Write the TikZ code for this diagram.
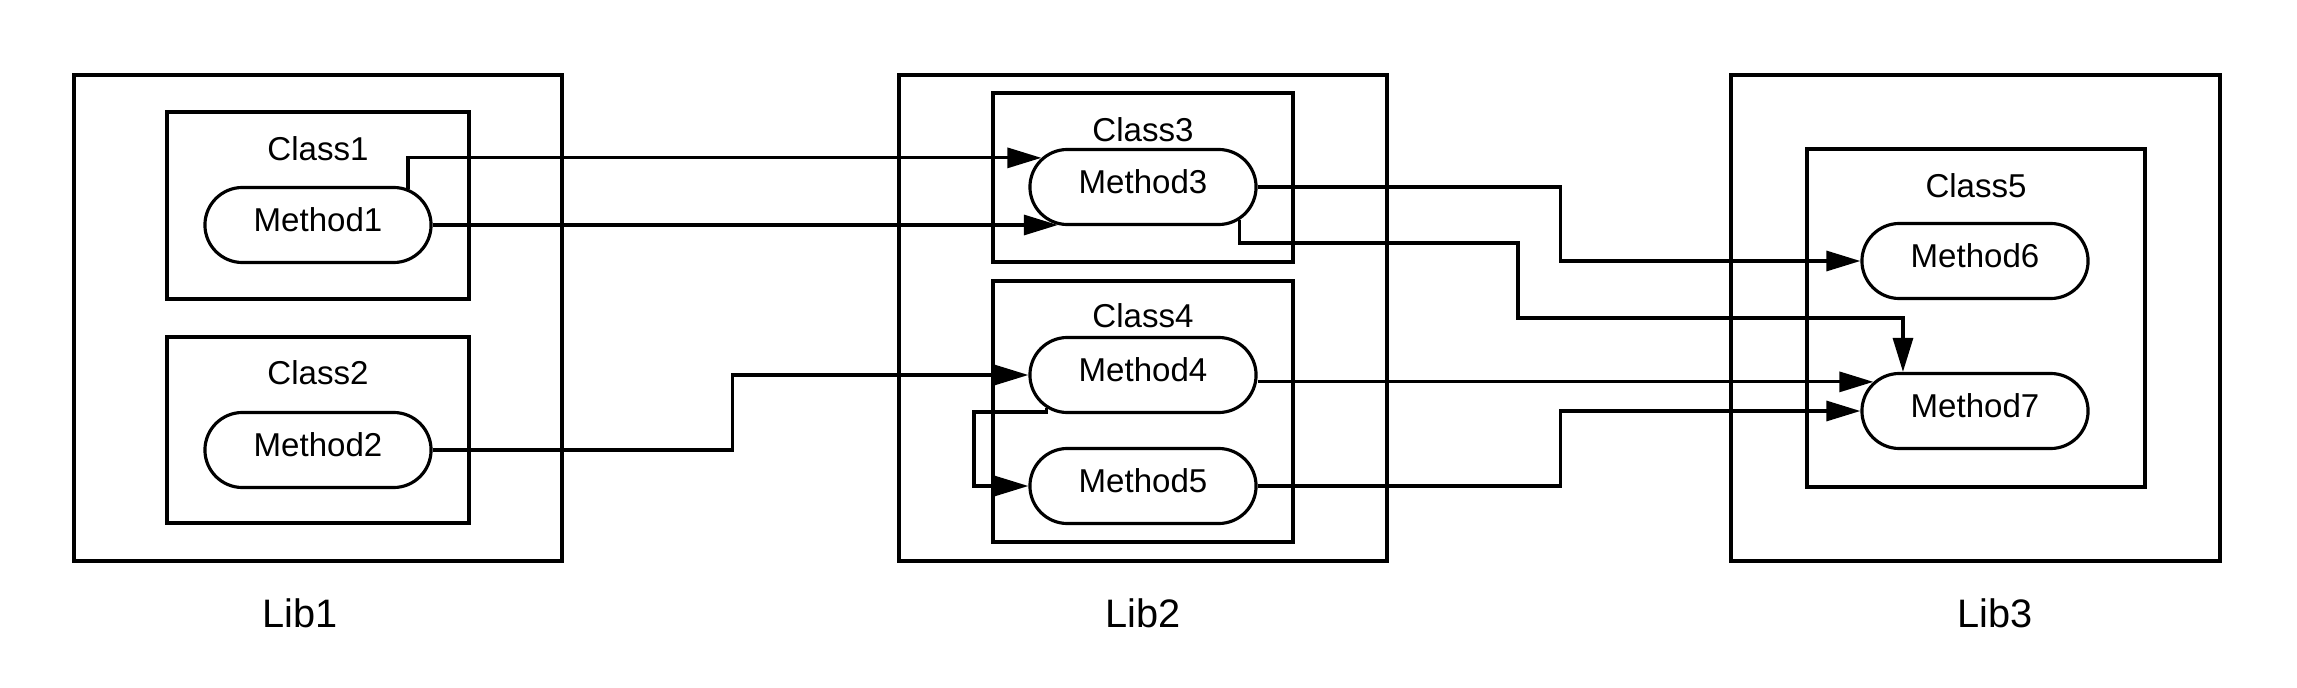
\documentclass[tikz,border=0pt]{standalone}
\usepackage{fontspec}
\setmainfont{Liberation Sans}
\usetikzlibrary{arrows.meta,shapes.misc}

\begin{document}
\begin{tikzpicture}[
  x=0.01cm,y=-0.01cm,
  lib/.style={draw,line width=1.2pt,inner sep=0pt},
  cls/.style={draw,line width=1.1pt,inner sep=0pt},
  method/.style={draw,rounded rectangle,line width=0.9pt,minimum width=2.26cm,
    minimum height=0.75cm,inner sep=0pt,text depth=1.1mm,font=\fontsize{9.4}{11}\selectfont},
  title/.style={inner sep=0pt,font=\fontsize{9.4}{11}\selectfont},
  libname/.style={inner sep=0pt,font=\fontsize{11.3}{13}\selectfont},
  link/.style={draw,->,line width=0.9pt},
  >={Triangle[length=3.4mm,width=2mm]},
  ]
  \useasboundingbox (0,0) rectangle (2297,688);
  % libraries
  \node[lib,minimum width=4.88cm,minimum height=4.86cm](lib1) at (318,318){};
  \node[lib,minimum width=4.88cm,minimum height=4.86cm](lib2) at (1143,318){};
  \node[lib,minimum width=4.89cm,minimum height=4.86cm](lib3) at (1975.5,318){};
  \node[libname](n1) at (300,613){Lib1};
  \node[libname](n2) at (1143,613){Lib2};
  \node[libname](n3) at (1995,613){Lib3};
  % classes
  \node[cls,minimum width=3.02cm,minimum height=1.87cm](cls1) at (318,205.5){};
  \node[cls,minimum width=3.02cm,minimum height=1.86cm](cls2) at (318,430){};
  \node[cls,minimum width=3.00cm,minimum height=1.69cm](cls3) at (1143,177.5){};
  \node[cls,minimum width=3.00cm,minimum height=2.61cm](cls4) at (1143,411.5){};
  \node[cls,minimum width=3.38cm,minimum height=3.38cm](cls5) at (1976,318){};
  \node[title](t1) at ([yshift=-3.9mm]cls1.north){Class1};
  \node[title](t2) at ([yshift=-3.8mm]cls2.north){Class2};
  \node[title](t3) at ([yshift=-3.9mm]cls3.north){Class3};
  \node[title](t4) at ([yshift=-3.7mm]cls4.north){Class4};
  \node[title](t5) at ([yshift=-3.9mm]cls5.north){Class5};
  % methods
  \node[method](m1) at (318,225){Method1};
  \node[method](m2) at (318,450){Method2};
  \node[method](m3) at (1143,187){Method3};
  \node[method](m4) at (1143,375){Method4};
  \node[method](m5) at (1143,486){Method5};
  \node[method](m6) at (1975,261){Method6};
  \node[method](m7) at (1975,411){Method7};
  % calls
  \draw[link] (m1.22) |- (m3.164);
  \draw[link] (m1.east) -- (m1.east -| m3.204);
  \draw[link] (m2.east) -- ++(300,0) |- (m4.west);
  \draw[link] (m4.199) |- (974,412) |- (m5.west);
  \draw[link] (m3.east) -- ++(303,0) |- (m6.west);
  \draw[link] (m3.341) |- (1518,243) -- (1518,318) -| ([xshift=-7.2mm]m7.north);
  \draw[link] (m4.east |- m7.164) -- (m7.164);
  \draw[link] (m5.east) -- ++(303,0) |- (m7.west);
\end{tikzpicture}
\end{document}
